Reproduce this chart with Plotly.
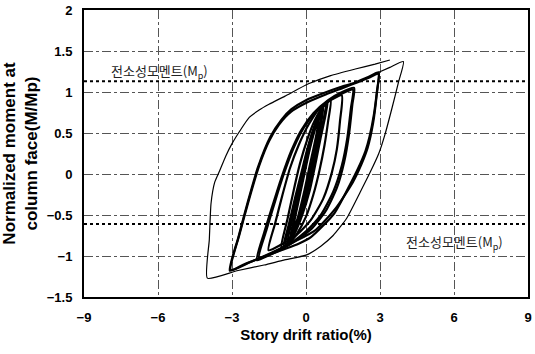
import plotly.graph_objects as go

# ---------------- data ----------------
x_ticks = [-9, -6, -3, 0, 3, 6, 9]
y_ticks = [-1.5, -1, -0.5, 0, 0.5, 1, 1.5, 2]
mp_pos = 1.13
mp_neg = -0.61
mp_label = "전소성모멘트(M<sub>p</sub>)"

# thick hysteresis loops (drift %, M/Mp)
core_a_x = [-0.92, -0.7, -0.45, -0.2, 0.05, 0.3, 0.55, 0.75, 0.88, 0.78, 0.6, 0.4, 0.15, -0.15, -0.45, -0.7, -0.92]
core_a_y = [-0.89, -0.62, -0.3, 0.0, 0.3, 0.55, 0.75, 0.85, 0.89, 0.7, 0.45, 0.15, -0.2, -0.5, -0.72, -0.84, -0.89]
core_b_x = [-0.75, -0.55, -0.3, -0.05, 0.2, 0.45, 0.7, 0.6, 0.4, 0.15, -0.1, -0.4, -0.75]
core_b_y = [-0.82, -0.55, -0.2, 0.12, 0.42, 0.65, 0.8, 0.6, 0.3, -0.05, -0.38, -0.65, -0.82]
core_c_x = [-0.55, -0.35, -0.1, 0.15, 0.4, 0.55, 0.4, 0.15, -0.1, -0.35, -0.55]
core_c_y = [-0.7, -0.4, -0.05, 0.3, 0.58, 0.7, 0.45, 0.1, -0.25, -0.55, -0.7]
core_d_x = [-0.85, -0.62, -0.38, -0.12, 0.12, 0.38, 0.62, 0.82, 0.7, 0.5, 0.28, 0.02, -0.28, -0.58, -0.85]
core_d_y = [-0.87, -0.58, -0.25, 0.06, 0.36, 0.6, 0.78, 0.87, 0.65, 0.38, 0.06, -0.28, -0.58, -0.78, -0.87]
core_e_x = [-0.65, -0.45, -0.2, 0.05, 0.3, 0.5, 0.65, 0.52, 0.3, 0.05, -0.2, -0.45, -0.65]
core_e_y = [-0.78, -0.5, -0.14, 0.2, 0.5, 0.68, 0.76, 0.55, 0.22, -0.12, -0.45, -0.66, -0.78]
loop1_x = [-1.0, -0.75, -0.5, -0.25, 0.05, 0.35, 0.7, 1.0, 0.9, 0.75, 0.55, 0.3, 0.0, -0.35, -0.7, -1.0]
loop1_y = [-0.9, -0.55, -0.2, 0.12, 0.42, 0.65, 0.83, 0.9, 0.65, 0.35, 0.05, -0.25, -0.52, -0.72, -0.85, -0.9]
loop15_x = [-1.52, -1.25, -0.95, -0.65, -0.3, 0.1, 0.55, 1.0, 1.45, 1.38, 1.25, 1.05, 0.7, 0.2, -0.4, -1.0, -1.52]
loop15_y = [-0.93, -0.6, -0.25, 0.07, 0.35, 0.6, 0.8, 0.9, 0.96, 0.65, 0.3, 0.02, -0.3, -0.56, -0.75, -0.86, -0.93]
loop2_x = [-1.99, -1.7, -1.35, -1.0, -0.6, -0.2, 0.3, 0.9, 1.4, 1.95, 1.88, 1.75, 1.55, 1.25, 0.8, 0.25, -0.35, -1.0, -1.5, -1.99]
loop2_y = [-1.05, -0.72, -0.38, -0.05, 0.28, 0.53, 0.74, 0.9, 0.99, 1.05, 0.85, 0.5, 0.15, -0.17, -0.45, -0.66, -0.8, -0.92, -0.99, -1.05]
loop2b_x = [-1.9, -1.6, -1.25, -0.9, -0.5, -0.1, 0.4, 0.95, 1.45, 1.9, 1.82, 1.68, 1.45, 1.1, 0.6, 0.0, -0.6, -1.2, -1.9]
loop2b_y = [-1.02, -0.68, -0.33, 0.0, 0.32, 0.56, 0.76, 0.9, 0.98, 1.03, 0.8, 0.45, 0.1, -0.22, -0.5, -0.7, -0.84, -0.94, -1.02]
loop3_x = [-3.09, -2.75, -2.35, -1.95, -1.45, -1.0, -0.59, 0.0, 0.75, 1.4, 1.95, 2.5, 2.95, 2.88, 2.75, 2.58, 2.41, 2.1, 1.8, 1.15, 0.2, -0.3, -1.0, -1.8, -2.5, -3.09]
loop3_y = [-1.18, -0.78, -0.33, 0.08, 0.45, 0.66, 0.79, 0.9, 0.99, 1.06, 1.11, 1.18, 1.24, 1.02, 0.72, 0.46, 0.28, 0.06, -0.12, -0.48, -0.77, -0.85, -0.93, -1.02, -1.1, -1.18]
loop3b_x = [-3.05, -2.7, -2.3, -1.9, -1.5, -1.1, -0.6, 0.1, 0.8, 1.5, 2.1, 2.6, 2.93, 2.86, 2.72, 2.5, 2.25, 1.9, 1.2, 0.4, -0.5, -1.4, -2.3, -3.05]
loop3b_y = [-1.17, -0.74, -0.3, 0.1, 0.4, 0.6, 0.76, 0.88, 0.97, 1.05, 1.12, 1.18, 1.22, 0.95, 0.62, 0.32, 0.12, -0.1, -0.42, -0.68, -0.83, -0.96, -1.08, -1.17]

# thin final excursion to +4 % / -4 %
thin_x = [2.95, 3.4, 3.95, 3.75, 3.5, 3.2, 2.95, 2.6, 2.2, 1.65, 1.1, 0.6, 0.0, -0.9, -1.7, -2.8, -4.0,
          -3.92, -3.85, -3.7, -3.5, -3.25, -3.0, -2.65, -2.3, -1.9, -1.5, -0.85, 0.1, 1.0, 2.0, 2.8, 3.4]
thin_y = [1.24, 1.3, 1.37, 1.12, 0.82, 0.48, 0.25, 0.02, -0.22, -0.54, -0.75, -0.88, -0.99, -1.05, -1.11, -1.18, -1.27,
          -0.8, -0.36, -0.1, 0.04, 0.22, 0.37, 0.54, 0.69, 0.78, 0.85, 0.95, 1.1, 1.2, 1.28, 1.34, 1.39]

thick_loops = [(core_c_x, core_c_y), (core_e_x, core_e_y), (core_b_x, core_b_y),
               (core_d_x, core_d_y), (core_a_x, core_a_y),
               (loop1_x, loop1_y), (loop15_x, loop15_y), (loop2b_x, loop2b_y),
               (loop2_x, loop2_y), (loop3b_x, loop3b_y), (loop3_x, loop3_y)]

fig = go.Figure()

# Mp reference lines
for yv in (mp_pos, mp_neg):
    fig.add_trace(go.Scatter(x=[x_ticks[0], x_ticks[-1]], y=[yv, yv], mode="lines",
                             line=dict(color="black", width=2, dash="dot"),
                             showlegend=False, hoverinfo="skip"))

for lx, ly in thick_loops:
    fig.add_trace(go.Scatter(x=lx, y=ly, mode="lines",
                             line=dict(color="black", width=2.2, shape="spline", smoothing=0.6),
                             showlegend=False))

fig.add_trace(go.Scatter(x=thin_x, y=thin_y, mode="lines",
                         line=dict(color="black", width=1.2, shape="spline", smoothing=0.5),
                         showlegend=False))

fig.add_annotation(x=-5.95, y=1.25, text=mp_label, showarrow=False,
                   font=dict(family="Noto Sans CJK KR", size=13, color="#222"))
fig.add_annotation(x=6.0, y=-0.84, text=mp_label, showarrow=False,
                   font=dict(family="Noto Sans CJK KR", size=13, color="#222"))

axis_common = dict(showline=True, linecolor="black", linewidth=2, mirror=True,
                   showgrid=True, gridcolor="#555", gridwidth=1, griddash="dashdot",
                   zeroline=False, ticks="", ticklabelstandoff=7,
                   tickfont=dict(family="Liberation Sans", size=13, color="black", weight="bold"))

fig.update_xaxes(range=[x_ticks[0], x_ticks[-1]], tickvals=x_ticks,
                 title=dict(text="Story drift ratio(%)", standoff=6,
                            font=dict(family="Liberation Sans", size=15, color="black", weight="bold")),
                 **axis_common)
fig.update_yaxes(range=[y_ticks[0], y_ticks[-1]], tickvals=y_ticks,
                 title=dict(text="Normalized moment at<br>column face(M/Mp)", standoff=5,
                            font=dict(family="Liberation Sans", size=17, color="black", weight="bold")),
                 **axis_common)

fig.update_layout(width=535, height=354, margin=dict(l=84, r=3, t=10, b=57),
                  plot_bgcolor="white", paper_bgcolor="white", showlegend=False)

fig.write_html("out.html")
